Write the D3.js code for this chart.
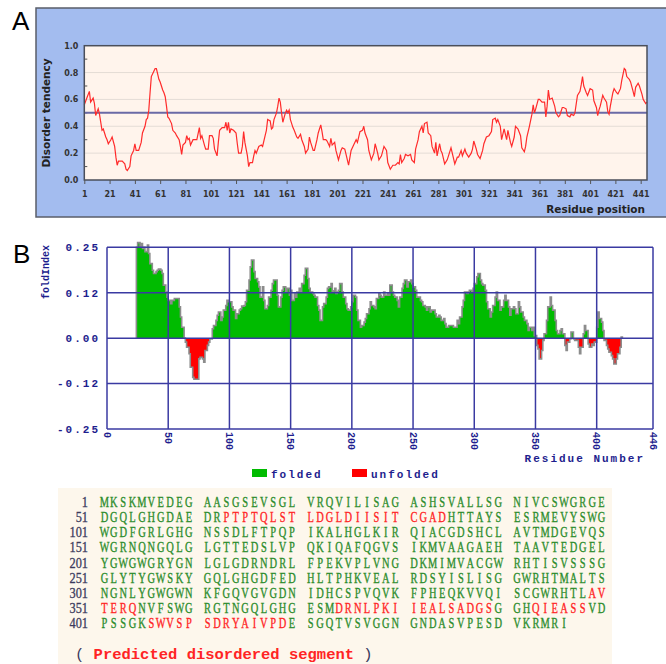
<!DOCTYPE html>
<html>
<head>
<meta charset="utf-8">
<script src="https://cdn.jsdelivr.net/npm/d3@7"></script>
<style>
  body { margin: 0; background: #fff; }
  svg { display: block; }
</style>
</head>
<body>
<div id="chart"></div>
<script>
// ---- panel A : disorder tendency (residue, value)
const posA = [1,3,5,6,8,9,10,12,13,15,16,18,19,20,22,23,25,26,27,28,31,33,34,35,37,38,40,41,42,44,46,47,49,50,51,52,53,54,56,57,58,59,60,61,63,64,65,66,67,68,70,71,73,74,76,77,78,79,81,82,83,84,85,87,89,90,92,93,94,96,97,99,100,102,103,104,106,107,108,110,112,113,114,115,116,117,119,121,122,123,125,126,127,128,130,131,132,134,135,136,137,139,141,142,144,145,146,148,149,150,151,153,154,155,156,157,158,160,161,162,163,164,166,167,169,170,172,173,175,176,178,179,180,182,183,185,186,188,189,190,192,193,195,196,197,199,200,202,204,205,207,208,210,212,214,216,217,219,221,222,223,225,226,228,230,231,233,234,236,238,240,241,243,245,247,249,250,251,252,254,255,257,259,260,262,263,265,266,268,269,270,272,273,275,276,278,279,280,282,283,284,286,288,289,291,292,294,296,297,299,300,302,303,305,307,308,309,311,312,314,316,317,319,321,323,324,326,327,328,330,331,333,335,336,338,339,341,342,344,346,347,349,350,351,353,355,356,357,358,360,361,363,365,366,367,368,369,371,373,374,376,377,379,380,382,383,385,386,388,389,391,393,394,395,396,398,399,401,403,404,406,407,408,409,411,412,414,415,416,417,419,420,422,423,425,426,428,429,430,432,433,435,436,437,439,440,442,443,445,446];
const valA = [0.56,0.61,0.66,0.58,0.61,0.57,0.48,0.53,0.49,0.37,0.38,0.32,0.30,0.27,0.30,0.32,0.25,0.17,0.11,0.14,0.14,0.12,0.08,0.07,0.10,0.18,0.22,0.27,0.22,0.22,0.28,0.35,0.40,0.45,0.46,0.52,0.65,0.77,0.81,0.83,0.83,0.79,0.75,0.73,0.67,0.65,0.62,0.55,0.47,0.46,0.42,0.37,0.35,0.33,0.30,0.25,0.19,0.26,0.28,0.33,0.30,0.31,0.26,0.30,0.30,0.30,0.39,0.31,0.33,0.26,0.23,0.23,0.33,0.33,0.31,0.23,0.18,0.28,0.37,0.39,0.39,0.43,0.37,0.43,0.35,0.38,0.37,0.35,0.27,0.20,0.20,0.25,0.36,0.28,0.18,0.10,0.13,0.13,0.18,0.22,0.20,0.25,0.26,0.25,0.33,0.37,0.45,0.44,0.38,0.39,0.45,0.50,0.55,0.61,0.58,0.50,0.43,0.50,0.52,0.50,0.52,0.45,0.39,0.37,0.32,0.31,0.34,0.30,0.25,0.20,0.23,0.32,0.28,0.22,0.22,0.30,0.35,0.41,0.36,0.30,0.30,0.29,0.25,0.31,0.26,0.28,0.22,0.15,0.22,0.24,0.23,0.19,0.11,0.22,0.26,0.30,0.28,0.36,0.37,0.40,0.35,0.30,0.22,0.15,0.20,0.27,0.20,0.15,0.18,0.25,0.22,0.13,0.08,0.11,0.11,0.13,0.12,0.19,0.13,0.16,0.19,0.18,0.19,0.15,0.13,0.23,0.30,0.36,0.40,0.35,0.42,0.43,0.35,0.33,0.25,0.20,0.28,0.18,0.27,0.22,0.20,0.12,0.15,0.18,0.24,0.20,0.12,0.17,0.17,0.22,0.18,0.23,0.20,0.17,0.20,0.23,0.29,0.23,0.19,0.16,0.22,0.27,0.32,0.33,0.36,0.45,0.46,0.43,0.45,0.40,0.30,0.38,0.30,0.37,0.28,0.25,0.32,0.40,0.38,0.33,0.24,0.21,0.25,0.32,0.40,0.49,0.56,0.50,0.53,0.60,0.60,0.58,0.58,0.47,0.55,0.67,0.60,0.61,0.55,0.50,0.47,0.48,0.54,0.54,0.53,0.48,0.47,0.49,0.48,0.50,0.63,0.66,0.71,0.77,0.70,0.65,0.63,0.68,0.67,0.59,0.54,0.48,0.52,0.55,0.63,0.61,0.58,0.51,0.49,0.55,0.65,0.68,0.65,0.64,0.68,0.74,0.83,0.82,0.77,0.75,0.73,0.66,0.62,0.69,0.72,0.70,0.64,0.60,0.57,0.58];
const ticksA = [1,21,41,61,81,101,121,141,161,181,201,221,241,261,281,301,321,341,361,381,401,421,441];
const ticksAy = [0,0.2,0.4,0.6,0.8,1.0];
const cutoffA = 0.5;

// ---- panel B : FoldIndex (residue, value)
const posB = [24,25,27,28,29,30,31,33,34,35,37,38,40,41,42,44,45,46,48,49,50,52,53,55,56,57,59,60,61,63,64,65,67,68,70,71,72,74,75,76,78,79,80,82,83,84,86,87,89,90,91,93,94,95,97,98,99,101,102,103,105,106,108,109,110,112,113,114,116,117,118,120,121,123,124,125,127,128,129,131,132,134,135,136,138,139,140,142,143,144,146,147,149,150,151,153,154,155,157,158,159,161,162,164,165,166,168,169,170,172,173,174,176,177,179,180,181,183,184,185,186,187,188,189,190,192,193,195,196,197,199,200,201,203,204,205,207,208,210,211,212,214,215,216,218,219,220,222,223,224,226,227,229,230,231,233,234,235,237,238,239,241,242,243,245,246,248,249,250,252,253,254,256,257,258,260,261,262,264,265,267,268,269,271,272,273,275,276,277,279,280,281,283,284,286,287,288,290,291,292,294,295,296,298,299,300,302,303,305,306,307,309,310,311,313,314,315,317,318,319,321,322,324,325,326,328,329,330,332,333,334,336,337,338,340,341,343,344,345,347,348,349,351,352,353,355,356,357,359,360,362,363,364,366,367,368,370,371,372,374,375,376,378,379,381,382,383,385,386,387,389,390,391,393,394,396,397,398,400,401,402,404,405,406,408,409,410,412,413,414,416,417,419,420,421];
const valB = [0.25,0.263,0.25,0.26,0.247,0.25,0.238,0.256,0.233,0.205,0.187,0.178,0.183,0.187,0.19,0.187,0.178,0.146,0.127,0.113,0.104,0.095,0.104,0.109,0.109,0.109,0.086,0.058,0.03,0.0,-0.011,-0.025,-0.043,-0.08,-0.108,-0.113,-0.113,-0.113,-0.057,-0.053,-0.057,-0.066,-0.034,-0.02,-0.011,-0.002,0.026,0.035,0.049,0.063,0.072,0.049,0.058,0.077,0.09,0.104,0.1,0.1,0.086,0.077,0.054,0.067,0.077,0.081,0.088,0.09,0.1,0.132,0.16,0.196,0.215,0.183,0.164,0.155,0.141,0.113,0.141,0.104,0.081,0.09,0.113,0.132,0.15,0.16,0.16,0.118,0.086,0.113,0.132,0.141,0.127,0.137,0.118,0.132,0.104,0.123,0.113,0.127,0.137,0.127,0.15,0.173,0.192,0.164,0.137,0.127,0.123,0.118,0.113,0.09,0.077,0.049,0.086,0.095,0.113,0.137,0.141,0.15,0.127,0.13,0.137,0.123,0.127,0.132,0.15,0.127,0.113,0.095,0.081,0.077,0.086,0.1,0.118,0.113,0.077,0.049,0.03,0.035,0.044,0.054,0.067,0.081,0.1,0.09,0.086,0.081,0.109,0.123,0.118,0.113,0.127,0.118,0.123,0.118,0.146,0.127,0.118,0.113,0.104,0.086,0.113,0.137,0.15,0.16,0.141,0.155,0.16,0.15,0.141,0.132,0.113,0.113,0.104,0.1,0.09,0.086,0.077,0.086,0.072,0.077,0.077,0.067,0.058,0.063,0.058,0.049,0.054,0.04,0.03,0.035,0.035,0.035,0.03,0.03,0.049,0.04,0.058,0.086,0.104,0.127,0.123,0.127,0.132,0.127,0.137,0.15,0.169,0.178,0.16,0.15,0.146,0.132,0.1,0.081,0.058,0.072,0.09,0.113,0.127,0.104,0.077,0.086,0.104,0.118,0.104,0.086,0.063,0.081,0.086,0.081,0.067,0.1,0.086,0.072,0.058,0.049,0.04,0.021,0.03,0.021,0.03,0.007,-0.02,-0.03,-0.057,-0.034,-0.006,0.012,0.049,0.086,0.113,0.09,0.077,0.049,0.021,0.012,0.021,0.026,0.012,-0.02,-0.034,-0.011,-0.002,0.017,-0.002,-0.006,-0.006,-0.025,-0.043,-0.025,0.012,0.035,0.021,-0.016,-0.025,-0.016,-0.02,-0.011,0.03,0.072,0.054,0.044,0.021,-0.006,-0.02,-0.03,-0.039,-0.048,-0.057,-0.071,-0.057,-0.043,-0.025,0.003,0];
const ticksBx = [0,50,100,150,200,250,300,350,400,446];
const ticksBy = [-0.25,-0.125,0,0.125,0.25];
const ticksByLabels = ["-0.25","-0.12","0.00","0.12","0.25"];
const legendB = ["folded","unfolded"];

// ---- sequence
const seqStarts = [1,51,101,151,201,251,301,351,401];
const seqLines = [
  "MKSKMVEDEGAASGSEVSGLVRQVILISAGASHSVALLSGNIVCSWGRGE",
  "DGQLGHGDAEDRPTPTQLSTLDGLDIISITCGADHTTAYSESRMEVYSWG",
  "WGDFGRLGHGNSSDLFTPQPIKALHGLKIRQIACGDSHCLAVTMDGEVQS",
  "WGRNQNGQLGLGTTEDSLVPQKIQAFQGVSIKMVAAGAEHTAAVTEDGEL",
  "YGWGWGRYGNLGLGDRNDRLFPEKVPLVNGDKMIMVACGWRHTISVSSSG",
  "GLYTYGWSKYGQLGHGDFEDHLTPHKVEALRDSYISLISGGWRHTMALTS",
  "NGNLYGWGWNKFGQVGVGDNIDHCSPVQVKFPHEQKVVQISCGWRHTLAV",
  "TERQNVFSWGRGTNGQLGHGESMDRNLPKIIEALSADGSGGHQIEASSVD",
  "PSSGKSWVSPSDRYAIVPDESGQTVSVGGNGNDASVPESDVKRMRI"
];
const disordered = [[63,84],[349,354],[374,389],[393,398],[406,419]];
const noteText = "Predicted disordered segment";

const svg = d3.select("#chart").append("svg")
              .attr("width", 666)
              .attr("height", 664);

// =============== panel A
svg.append("rect")
   .attr("x", 36).attr("y", 8)
   .attr("width", 660).attr("height", 209)
   .attr("fill", "#a3bcef")
   .attr("stroke", "#5a5e6a")
   .attr("stroke-width", 1.5);
svg.append("text").text("A")
   .attr("x", 12).attr("y", 30)
   .style("font", "26px 'Liberation Sans', Arial, sans-serif");

let xA = d3.scaleLinear().domain([1, 446]).range([84.3, 647]);
let yA = d3.scaleLinear().domain([0, 1]).range([180, 45.7]);

let gA = svg.append("g");
gA.append("rect")
  .attr("x", xA(1)).attr("y", yA(1))
  .attr("width", xA(446) - xA(1)).attr("height", yA(0) - yA(1))
  .attr("fill", "#fff4ec");
gA.selectAll(".gridA")
  .data([0.2, 0.4, 0.6, 0.8])
  .enter().append("line")
  .attr("x1", xA(1)).attr("x2", xA(446))
  .attr("y1", d => yA(d)).attr("y2", d => yA(d))
  .attr("stroke", "#e4dcd6").attr("stroke-width", 1);
gA.selectAll(".minorA")
  .data([0.1, 0.3, 0.5, 0.7, 0.9])
  .enter().append("line")
  .attr("x1", xA(1)).attr("x2", xA(1) + 3)
  .attr("y1", d => yA(d)).attr("y2", d => yA(d))
  .attr("stroke", "#555").attr("stroke-width", 1);
gA.append("line")
  .attr("x1", xA(1)).attr("x2", xA(446))
  .attr("y1", yA(cutoffA)).attr("y2", yA(cutoffA))
  .attr("stroke", "#6a6aa6").attr("stroke-width", 2);

let lineA = d3.line()
              .x((d, i) => xA(posA[i]))
              .y(d => yA(d));
gA.append("path")
  .datum(valA)
  .attr("d", lineA)
  .attr("fill", "none")
  .attr("stroke", "#ff2b2b")
  .attr("stroke-width", 1.2);

gA.append("rect")
  .attr("x", xA(1)).attr("y", yA(1))
  .attr("width", xA(446) - xA(1)).attr("height", yA(0) - yA(1))
  .attr("fill", "none")
  .attr("stroke", "#4a4e5a").attr("stroke-width", 1.5);

let axAy = gA.append("g")
             .attr("transform", "translate(" + xA(1) + ",0)")
             .call(d3.axisLeft(yA).tickValues(ticksAy).tickFormat(d3.format(".1f")).tickSize(0).tickPadding(6));
let axAx = gA.append("g")
             .attr("transform", "translate(0," + yA(0) + ")")
             .call(d3.axisBottom(xA).tickValues(ticksA).tickSize(4).tickPadding(7));
[axAy, axAx].forEach(a => {
    a.select(".domain").remove();
    a.selectAll("text").style("font", "bold 8px 'DejaVu Sans', Verdana, sans-serif").attr("fill", "#333");
    a.selectAll("line").attr("stroke", "#555");
});
gA.append("text").text("Disorder tendency")
  .attr("transform", "translate(50,113) rotate(-90)")
  .attr("text-anchor", "middle")
  .style("font", "bold 10.5px 'DejaVu Sans', Verdana, sans-serif")
  .attr("fill", "#222");
gA.append("text").text("Residue position")
  .attr("x", 645).attr("y", 213)
  .attr("text-anchor", "end")
  .style("font", "bold 10.5px 'DejaVu Sans', Verdana, sans-serif")
  .attr("fill", "#222");

// =============== panel B
const navy = "#1e1e8e";
const monoB = "bold 11px 'Liberation Mono', 'DejaVu Sans Mono', monospace";
svg.append("text").text("B")
   .attr("x", 13).attr("y", 263)
   .style("font", "26px 'Liberation Sans', Arial, sans-serif");

let xB = d3.scaleLinear().domain([0, 446]).range([107, 653]);
let yB = d3.scaleLinear().domain([-0.25, 0.25]).range([429, 247.3]);
let gB = svg.append("g");

let ptsB = posB.map((p, i) => [p, valB[i]]);
// folded part (>=0) and unfolded part (<0) as stepped areas
let areaUp = d3.area()
               .curve(d3.curveStepAfter)
               .x(d => xB(d[0]))
               .y0(yB(0))
               .y1(d => yB(Math.max(d[1], 0)));
let areaDown = d3.area()
                 .curve(d3.curveStepAfter)
                 .x(d => xB(d[0]))
                 .y0(yB(0))
                 .y1(d => yB(Math.min(d[1], 0)));
gB.append("path").datum(ptsB).attr("d", areaUp).attr("fill", "#00bb00");
gB.append("path").datum(ptsB).attr("d", areaDown).attr("fill", "#ff0000");

let stepB = d3.line()
              .curve(d3.curveStepAfter)
              .x(d => xB(d[0]))
              .y(d => yB(d[1]));
gB.append("path")
  .datum([[posB[0], 0]].concat(ptsB))
  .attr("d", stepB)
  .attr("fill", "none")
  .attr("stroke", "#8c8c8c")
  .attr("stroke-width", 1.6);

gB.selectAll(".vgrid")
  .data(ticksBx)
  .enter().append("line")
  .attr("x1", d => xB(d)).attr("x2", d => xB(d))
  .attr("y1", yB(0.25)).attr("y2", yB(-0.25))
  .attr("stroke", "#3a3aa2").attr("stroke-width", 1.5);
gB.selectAll(".hgrid")
  .data(ticksBy)
  .enter().append("line")
  .attr("x1", xB(0)).attr("x2", xB(446))
  .attr("y1", d => yB(d)).attr("y2", d => yB(d))
  .attr("stroke", "#3a3aa2").attr("stroke-width", 1.5);

gB.selectAll(".ylab")
  .data(ticksBy)
  .enter().append("text")
  .text((d, i) => ticksByLabels[i])
  .attr("x", 100).attr("y", d => yB(d))
  .attr("dy", "0.35em")
  .attr("text-anchor", "end")
  .style("font", monoB).style("letter-spacing", "2px")
  .attr("fill", navy);
gB.selectAll(".xlab")
  .data(ticksBx)
  .enter().append("text")
  .text(d => d)
  .attr("transform", d => "translate(" + xB(d) + ",432) rotate(90)")
  .attr("dy", "0.35em")
  .style("font", "bold 10px 'Liberation Mono', 'DejaVu Sans Mono', monospace")
  .attr("fill", navy);
gB.append("text").text("foldIndex")
  .attr("transform", "translate(45,272) rotate(-90)")
  .attr("dy", "0.35em")
  .attr("text-anchor", "middle")
  .style("font", "bold 10px 'Liberation Mono', 'DejaVu Sans Mono', monospace")
  .attr("fill", navy);
gB.append("text").text("Residue Number")
  .attr("x", 645).attr("y", 462)
  .attr("text-anchor", "end")
  .style("font", monoB).style("letter-spacing", "2px")
  .attr("fill", navy);

let leg = gB.selectAll(".leg")
            .data(legendB)
            .enter().append("g")
            .attr("transform", (d, i) => "translate(" + (252 + i * 100) + ",469)");
leg.append("rect")
   .attr("width", 15).attr("height", 8)
   .attr("fill", (d, i) => i === 0 ? "#00bb00" : "#ff0000");
leg.append("text").text(d => d)
   .attr("x", 19).attr("y", 8.5)
   .style("font", monoB).style("letter-spacing", "2px")
   .attr("fill", navy);

// =============== sequence
svg.append("rect")
   .attr("x", 58).attr("y", 488)
   .attr("width", 554).attr("height", 180)
   .attr("fill", "#fdf7ec");

const pitch = 9.38, rowGap = 15.16, row0 = 507;
let isDis = n => disordered.some(r => n >= r[0] && n <= r[1]);
let chars = [];
seqLines.forEach((s, i) => {
    for (let j = 0; j < s.length; j++) {
        let g = Math.floor(j / 10);
        chars.push({c: s[j], n: seqStarts[i] + j, row: i, col: j + g});
    }
});
const serif = "14.5px 'Liberation Serif', 'DejaVu Serif', serif";
let gS = svg.append("g");
gS.selectAll(".num")
  .data(seqStarts)
  .enter().append("text")
  .text(d => d)
  .attr("transform", (d, i) => "translate(88," + (row0 + i * rowGap) + ") scale(0.85,1)")
  .attr("text-anchor", "end")
  .style("font", serif)
  .attr("fill", "#3a3a5c")
  .attr("stroke", "#3a3a5c").attr("stroke-width", 0.3);
gS.selectAll(".aa")
  .data(chars)
  .enter().append("text")
  .text(d => d.c)
  .attr("transform", d => "translate(" + (100 + d.col * pitch + 4.4) + "," + (row0 + d.row * rowGap) + ") scale(0.72,1)")
  .attr("text-anchor", "middle")
  .style("font", serif)
  .attr("fill", d => isDis(d.n) ? "#ff2424" : "#2b8c2b")
  .attr("stroke", d => isDis(d.n) ? "#ff2424" : "#2b8c2b")
  .attr("stroke-width", 0.35);

let note = gS.append("text")
             .attr("x", 75).attr("y", 659)
             .style("font", "15.5px 'Liberation Mono', 'DejaVu Sans Mono', monospace");
note.append("tspan").text("(").attr("fill", "#3a3a5c");
note.append("tspan").text(" " + noteText + " ").attr("fill", "#ff2424").style("font-weight", "bold");
note.append("tspan").text(")").attr("fill", "#3a3a5c");
</script>
</body>
</html>
